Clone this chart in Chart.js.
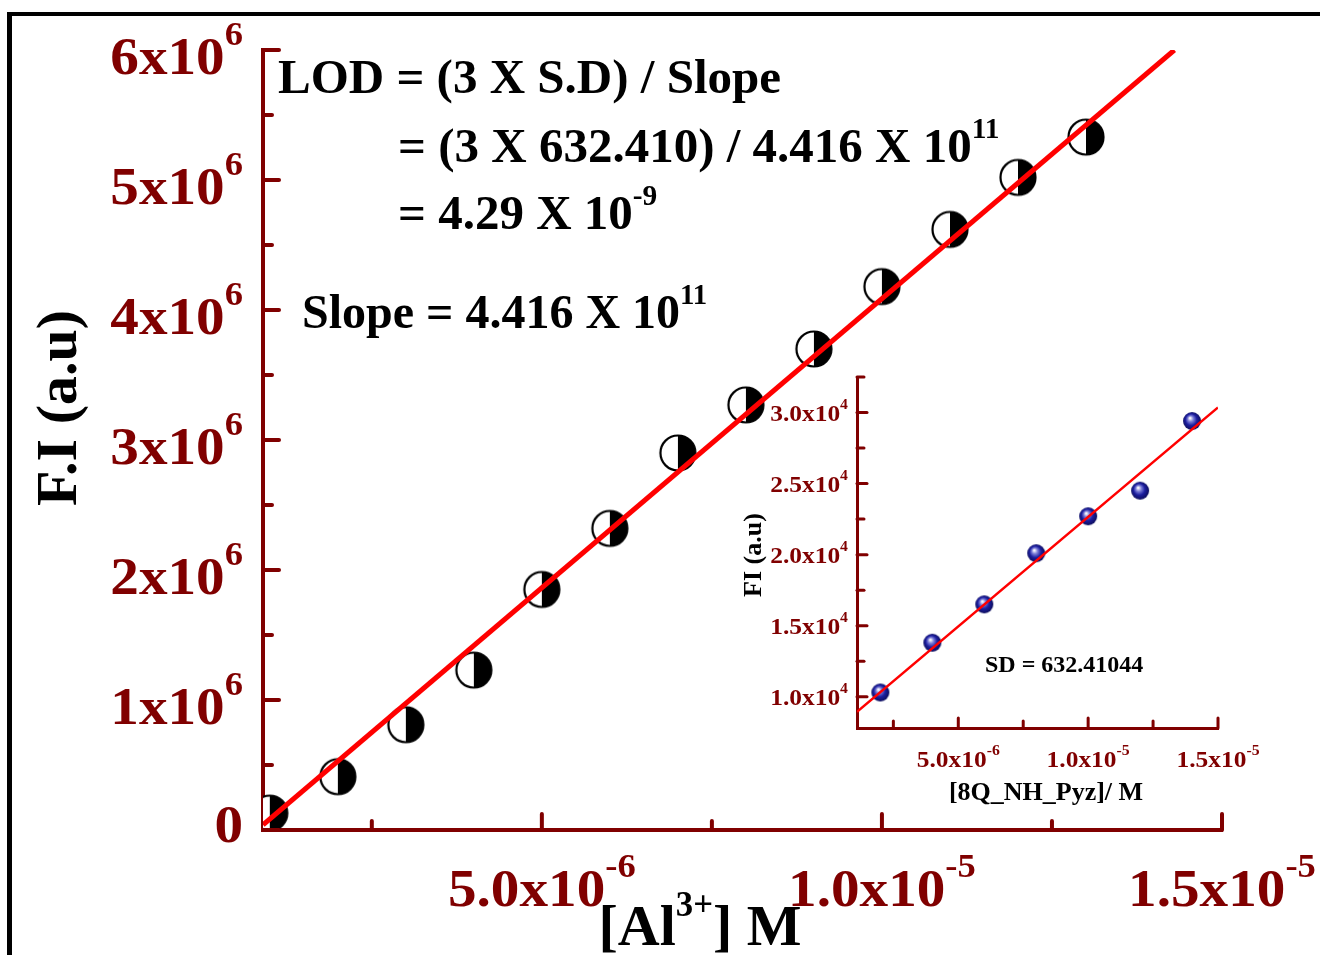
<!DOCTYPE html>
<html>
<head>
<meta charset="utf-8">
<script src="https://cdn.jsdelivr.net/npm/chart.js@4.4.1/dist/chart.umd.min.js"></script>
<style>
body { margin: 0; background: #fff; }
#wrap { position: relative; width: 1320px; height: 955px; overflow: hidden; }
#main { position: absolute; left: 0; top: 0; }
#inset { position: absolute; left: 700px; top: 360px; }
#frame { position: absolute; left: 7px; top: 12px; width: 1330px; height: 960px; border-left: 5px solid #000; border-top: 4px solid #000; }
</style>
</head>
<body>
<div id="wrap">
  <canvas id="main" width="1320" height="955"></canvas>
  <canvas id="inset" width="600" height="460"></canvas>
  <div id="frame"></div>
</div>
<script>
// main plot: F.I vs [Al3+]
const alConc = [1e-6, 2e-6, 3e-6, 4e-6, 5e-6, 6e-6, 7e-6, 8e-6, 9e-6, 10e-6, 11e-6, 12e-6, 13e-6];
const fiValues = [0.13e6, 0.41e6, 0.81e6, 1.23e6, 1.85e6, 2.32e6, 2.90e6, 3.27e6, 3.70e6, 4.18e6, 4.62e6, 5.02e6, 5.33e6];
const fitX = [0.9e-6, 14.3e-6];
const fitY = [0.04e6, 6.0e6];

const yMajor = [0, 1e6, 2e6, 3e6, 4e6, 5e6, 6e6];
const yMinor = [0.5e6, 1.5e6, 2.5e6, 3.5e6, 4.5e6, 5.5e6];
const yTickLabels = ['0', '1x10{6}', '2x10{6}', '3x10{6}', '4x10{6}', '5x10{6}', '6x10{6}'];
const xMajor = [5e-6, 1e-5, 1.5e-5];
const xMinor = [2.5e-6, 7.5e-6, 1.25e-5];
const xTickLabels = ['5.0x10{-6}', '1.0x10{-5}', '1.5x10{-5}'];

// inset: FI vs [8Q_NH_Pyz]
const ligConc = [2e-6, 4e-6, 6e-6, 8e-6, 10e-6, 12e-6, 14e-6];
const ligFI = [1.03e4, 1.38e4, 1.65e4, 2.01e4, 2.27e4, 2.45e4, 2.94e4];
const ligFitX = [1.1e-6, 1.5e-5];
const ligFitY = [0.894e4, 3.036e4];

const insetYMajor = [1.0e4, 1.5e4, 2.0e4, 2.5e4, 3.0e4];
const insetYMinor = [1.25e4, 1.75e4, 2.25e4, 2.75e4, 3.25e4];
const insetYLabels = ['1.0x10{4}', '1.5x10{4}', '2.0x10{4}', '2.5x10{4}', '3.0x10{4}'];
const insetXMajor = [5e-6, 1e-5, 1.5e-5];
const insetXMinor = [2.5e-6, 7.5e-6, 1.25e-5];
const insetXLabels = ['5.0x10{-6}', '1.0x10{-5}', '1.5x10{-5}'];

const MAROON = '#800000';
const SERIF = '"Liberation Serif", "Times New Roman", serif';

// text with {superscript} parts
function parts(str) {
    let out = [];
    str.replace(/\{([^}]*)\}|[^{]+/g, (m, sup) => {
        out.push(sup !== undefined ? [sup, true] : [m, false]);
    });
    return out;
}
function drawRich(ctx, str, x, y, o) {
    const size = o.size, sx = o.sx || 1, supK = o.supK || 0.62, rise = o.rise || 0.5;
    const ps = parts(str);
    let w = 0;
    ps.forEach(p => {
        ctx.font = 'bold ' + (p[1] ? size * supK : size) + 'px ' + SERIF;
        p.push(ctx.measureText(p[0]).width * sx);
        w += p[2];
    });
    let cx = x;
    if (o.align === 'right') cx = x - w;
    if (o.align === 'center') cx = x - w / 2;
    ctx.save();
    ctx.fillStyle = o.color || '#000';
    ctx.textBaseline = 'alphabetic';
    ps.forEach(p => {
        ctx.font = 'bold ' + (p[1] ? size * supK : size) + 'px ' + SERIF;
        ctx.save();
        ctx.translate(cx, p[1] ? y - size * rise : y);
        ctx.scale(sx, 1);
        ctx.fillText(p[0], 0, 0);
        ctx.restore();
        cx += p[2];
    });
    ctx.restore();
}

function axisDecor(cfg) {
    return {
        id: 'axisDecor',
        afterDraw(chart) {
            const ctx = chart.ctx, a = chart.chartArea;
            const x = chart.scales.x, y = chart.scales.y;
            ctx.save();
            ctx.strokeStyle = MAROON;
            ctx.lineWidth = cfg.tickWidth;
            ctx.lineCap = 'round';
            const seg = (x1, y1, x2, y2) => { ctx.beginPath(); ctx.moveTo(x1, y1); ctx.lineTo(x2, y2); ctx.stroke(); };
            cfg.yMajor.forEach(v => { const p = y.getPixelForValue(v); seg(a.left, p, a.left + cfg.major, p); });
            cfg.yMinor.forEach(v => { const p = y.getPixelForValue(v); seg(a.left, p, a.left + cfg.minor, p); });
            cfg.xMajor.forEach(v => { const p = x.getPixelForValue(v); seg(p, a.bottom, p, a.bottom - cfg.major); });
            cfg.xMinor.forEach(v => { const p = x.getPixelForValue(v); seg(p, a.bottom, p, a.bottom - cfg.minor); });
            ctx.restore();
            const lo = { size: cfg.labelSize, sx: cfg.sx, color: MAROON, supK: cfg.supK, rise: cfg.rise };
            cfg.yMajor.forEach((v, i) => {
                const p = y.getPixelForValue(v);
                const dy = v === 0 ? cfg.yZeroDy : cfg.yLabelDy;
                drawRich(ctx, cfg.yLabels[i], a.left - cfg.yLabelGap, p + dy, Object.assign({ align: 'right' }, lo));
            });
            cfg.xMajor.forEach((v, i) => {
                const p = x.getPixelForValue(v);
                drawRich(ctx, cfg.xLabels[i], p, a.bottom + cfg.xLabelDy, Object.assign({ align: 'center' }, lo));
            });
            if (cfg.extra) cfg.extra(ctx, a);
        }
    };
}

function halfMoon() {
    const c = document.createElement('canvas');
    c.width = 40; c.height = 40;
    const g = c.getContext('2d');
    g.fillStyle = '#fff';
    g.beginPath(); g.arc(20, 20, 17.5, 0, Math.PI * 2); g.fill();
    g.fillStyle = '#000';
    g.beginPath(); g.arc(20, 20, 17.5, -Math.PI / 2, Math.PI / 2); g.closePath(); g.fill();
    g.strokeStyle = '#000'; g.lineWidth = 2.2;
    g.beginPath(); g.arc(20, 20, 17.5, 0, Math.PI * 2); g.stroke();
    return c;
}
function sphere() {
    const c = document.createElement('canvas');
    c.width = 20; c.height = 20;
    const g = c.getContext('2d');
    const grd = g.createRadialGradient(8, 7, 0.5, 10, 10, 10);
    grd.addColorStop(0, '#ffffff');
    grd.addColorStop(0.25, '#7d7fd8');
    grd.addColorStop(0.55, '#1c1ea0');
    grd.addColorStop(1, '#08084a');
    g.fillStyle = grd;
    g.beginPath(); g.arc(10, 10, 9, 0, Math.PI * 2); g.fill();
    return c;
}

const zip = (xs, ys) => xs.map((v, i) => ({ x: v, y: ys[i] }));

const mainDecor = axisDecor({
    yMajor, yMinor, xMajor, xMinor,
    yLabels: yTickLabels, xLabels: xTickLabels,
    tickWidth: 4, major: 16, minor: 9,
    labelSize: 52, sx: 1.1, supK: 0.64, rise: 0.55,
    yLabelGap: 20, yLabelDy: 24, yZeroDy: 12, xLabelDy: 76,
    extra(ctx, a) {
        drawRich(ctx, 'LOD = (3 X S.D) / Slope', 278, 93, { size: 49 });
        drawRich(ctx, '= (3 X 632.410) / 4.416 X 10{11}', 398, 162, { size: 49, supK: 0.6 });
        drawRich(ctx, '= 4.29 X 10{-9}', 398, 229, { size: 49, supK: 0.6 });
        drawRich(ctx, 'Slope = 4.416 X 10{11}', 302, 328, { size: 48, supK: 0.6 });
        drawRich(ctx, '[Al{3+}] M', 700, 945, { size: 58, align: 'center', supK: 0.6 });
        ctx.save();
        ctx.translate(76, 408);
        ctx.rotate(-Math.PI / 2);
        drawRich(ctx, 'F.I (a.u)', 0, 0, { size: 58, align: 'center' });
        ctx.restore();
    }
});

new Chart(document.getElementById('main'), {
    type: 'scatter',
    data: {
        datasets: [
            {
                label: 'fit',
                data: zip(fitX, fitY),
                showLine: true,
                borderColor: '#ff0000',
                borderWidth: 5,
                pointRadius: 0,
                clip: 0
            },
            {
                label: 'F.I',
                data: zip(alConc, fiValues),
                pointStyle: halfMoon(),
                pointRadius: 18,
                clip: 0
            }
        ]
    },
    options: {
        responsive: false,
        animation: false,
        layout: { padding: { top: 50, right: 98, left: 0, bottom: 0 } },
        scales: {
            x: {
                type: 'linear', min: 0.9e-6, max: 1.5e-5,
                ticks: { display: false },
                grid: { display: false },
                border: { display: true, color: MAROON, width: 4 },
                afterFit: s => { s.height = 125; }
            },
            y: {
                type: 'linear', min: 0, max: 6e6,
                ticks: { display: false },
                grid: { display: false },
                border: { display: true, color: MAROON, width: 4 },
                afterFit: s => { s.width = 263; }
            }
        },
        plugins: { legend: { display: false }, tooltip: { enabled: false } }
    },
    plugins: [mainDecor]
});

const insetDecor = axisDecor({
    yMajor: insetYMajor, yMinor: insetYMinor, xMajor: insetXMajor, xMinor: insetXMinor,
    yLabels: insetYLabels, xLabels: insetXLabels,
    tickWidth: 3, major: 10, minor: 7,
    labelSize: 24, sx: 1.06, supK: 0.62, rise: 0.5,
    yLabelGap: 9, yLabelDy: 8, yZeroDy: 8, xLabelDy: 39,
    extra(ctx, a) {
        drawRich(ctx, '[8Q_NH_Pyz]/ M', 346, 440, { size: 26, align: 'center' });
        drawRich(ctx, 'SD = 632.41044', 285, 312, { size: 24 });
        ctx.save();
        ctx.translate(61, 195);
        ctx.rotate(-Math.PI / 2);
        drawRich(ctx, 'FI (a.u)', 0, 0, { size: 26, align: 'center' });
        ctx.restore();
    }
});

new Chart(document.getElementById('inset'), {
    type: 'scatter',
    data: {
        datasets: [
            {
                label: 'fit',
                data: zip(ligFitX, ligFitY),
                showLine: true,
                borderColor: '#ff0000',
                borderWidth: 2.5,
                pointRadius: 0,
                clip: 0
            },
            {
                label: 'FI',
                data: zip(ligConc, ligFI),
                pointStyle: sphere(),
                pointRadius: 9,
                clip: 0
            }
        ]
    },
    options: {
        responsive: false,
        animation: false,
        layout: { padding: { top: 17, right: 82, left: 0, bottom: 0 } },
        scales: {
            x: {
                type: 'linear', min: 1.1e-6, max: 1.5e-5,
                ticks: { display: false },
                grid: { display: false },
                border: { display: true, color: MAROON, width: 3 },
                afterFit: s => { s.height = 92; }
            },
            y: {
                type: 'linear', min: 0.78e4, max: 3.25e4,
                ticks: { display: false },
                grid: { display: false },
                border: { display: true, color: MAROON, width: 3 },
                afterFit: s => { s.width = 157; }
            }
        },
        plugins: { legend: { display: false }, tooltip: { enabled: false } }
    },
    plugins: [insetDecor]
});
</script>
</body>
</html>
